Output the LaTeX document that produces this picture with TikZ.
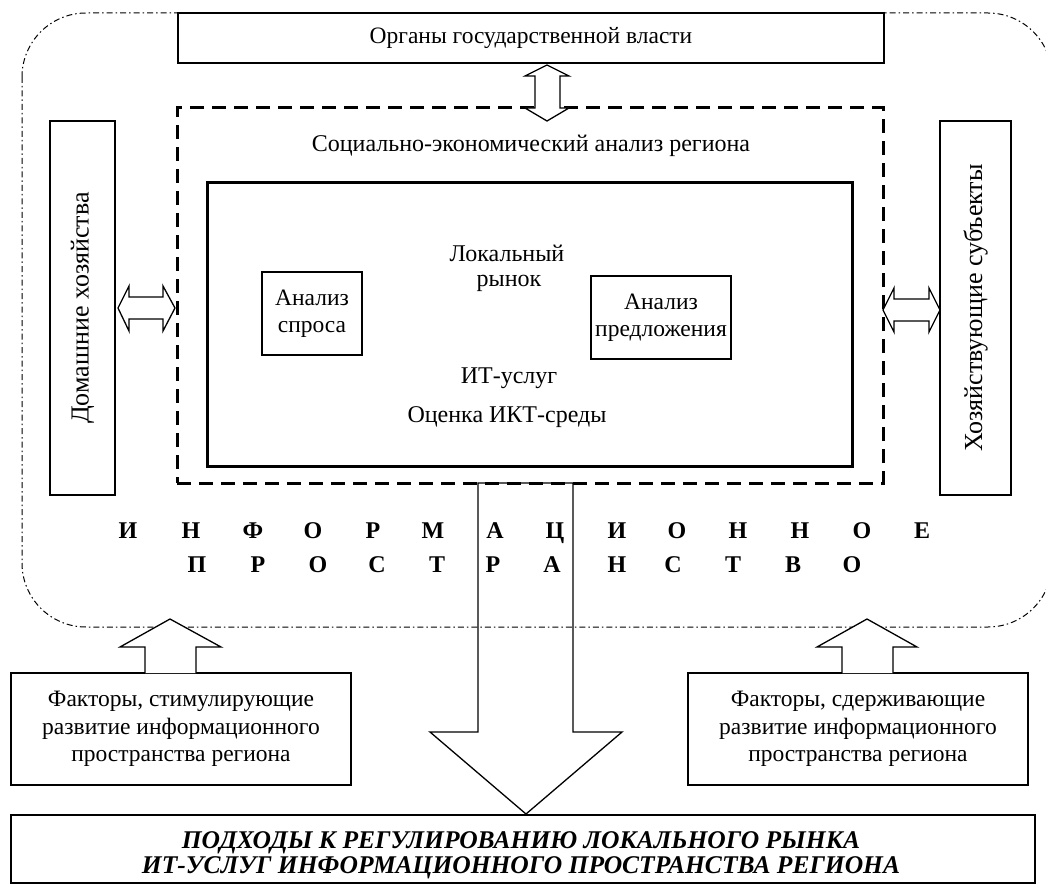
\documentclass[tikz,border=0pt]{standalone}
\usepackage{fontspec}
\setmainfont{Liberation Serif}
\begin{document}
\begin{tikzpicture}[x=1pt,y=-1pt,
  txt/.style={font=\fontsize{24}{27.5}\selectfont, align=center, inner sep=0pt},
  sidetxt/.style={font=\fontsize{26}{28}\selectfont, inner sep=0pt, rotate=90},
  box/.style={draw, line width=1.3pt, inner sep=0pt, align=center, font=\fontsize{23.5}{27.5}\selectfont},
  blockarrow/.style={draw, line width=1.3pt, line join=miter},
  letter/.style={font=\fontsize{24}{24}\selectfont\bfseries, inner sep=0pt, anchor=base}]
\useasboundingbox (0,0) rectangle (1046,885);
\clip (0,0) rectangle (1046,885);
% information space
\draw[line width=1pt, dash pattern=on 6pt off 3pt on 1.5pt off 3pt, rounded corners=64pt]
  (22,13) rectangle (1052,627);
% boxes
\node[box, minimum width=706pt, minimum height=50pt] (gov) at (531,38) {Органы государственной власти};
\node[draw, line width=3pt, dash pattern=on 14pt off 8pt, minimum width=706pt, minimum height=375pt, inner sep=0pt] (dash) at (530,295.5) {};
\node[txt] (soc) at (531,146) {Социально-экономический анализ региона};
\node[draw, line width=3pt, minimum width=645pt, minimum height=283pt, inner sep=0pt] (inner) at (529.5,324.5) {};
\node[box, minimum width=65pt, minimum height=374pt] (home) at (82.5,308) {};
\node[sidetxt] at (home.center) {Домашние хозяйства};
\node[box, minimum width=71pt, minimum height=374pt] (firm) at (975.5,308) {};
\node[sidetxt] at (firm.center) {Хозяйствующие субъекты};
\node[box, minimum width=100pt, minimum height=83pt] (dem) at (312,313.5) {Анализ\\спроса};
\node[box, minimum width=140pt, minimum height=83pt] (sup) at (661,317.5) {Анализ\\предложения};
\node[txt] (loc1) at (507,253) {Локальный};
\node[txt] (loc2) at (509,283) {рынок};
\node[txt] (loc3) at (509,378) {ИТ-услуг};
\node[txt] (ict) at (507,417) {Оценка ИКТ-среды};
% spaced letters
\foreach \x/\l in {128/И,191/Н,253/Ф,313/О,373/Р,433/М,495/А,555/Ц,617/И,677/О,738/Н,800/Н,862/О,922/Е}
  \node[letter] at (\x,538) {\l};
\foreach \x/\l in {197/П,258/Р,318/О,377/С,437/Т,493/Р,552/А,617/Н,673/С,733/Т,793/В,852/О}
  \node[letter] at (\x,572) {\l};
% factor boxes
\node[box, minimum width=340pt, minimum height=112pt] (stim) at (181,729) {Факторы, стимулирующие\\развитие информационного\\пространства региона};
\node[box, minimum width=340pt, minimum height=112pt] (hold) at (858,729) {Факторы, сдерживающие\\развитие информационного\\пространства региона};
% result box
\node[draw, line width=1.3pt, minimum width=1024pt, minimum height=68pt, inner sep=0pt] (res) at (523,849) {};
\node[font=\fontsize{25.5}{25}\selectfont\bfseries\itshape, inner sep=0pt, anchor=base] at (521,848) {ПОДХОДЫ К РЕГУЛИРОВАНИЮ ЛОКАЛЬНОГО РЫНКА};
\node[font=\fontsize{25.5}{25}\selectfont\bfseries\itshape, inner sep=0pt, anchor=base] at (521,873) {ИТ-УСЛУГ ИНФОРМАЦИОННОГО ПРОСТРАНСТВА РЕГИОНА};
% block arrows
\draw[blockarrow, fill=white] (547,65) -- (569,76) -- (560,76) -- (560,108) -- (569,108) -- (547,121)
  -- (525,108) -- (535,108) -- (535,76) -- (525,76) -- cycle;
\draw[blockarrow, fill=white] (118,308) -- (129,286) -- (129,297) -- (163,297) -- (163,286) -- (175,308)
  -- (163,331) -- (163,319) -- (129,319) -- (129,331) -- cycle;
\draw[blockarrow, fill=white] (883,310) -- (894,288) -- (894,299) -- (929,299) -- (929,288) -- (940,310)
  -- (929,332) -- (929,321) -- (894,321) -- (894,332) -- cycle;
\draw[blockarrow] (478,483) -- (573,483) -- (573,732) -- (622,732) -- (526,814) -- (430,732) -- (478,732) -- cycle;
\draw[blockarrow, fill=white] (145,673) -- (145,647) -- (120,647) -- (170,619) -- (221,647) -- (196,647) -- (196,673);
\draw[blockarrow, fill=white] (842,673) -- (842,647) -- (817,647) -- (867,619) -- (917,647) -- (893,647) -- (893,673);
\end{tikzpicture}
\end{document}
